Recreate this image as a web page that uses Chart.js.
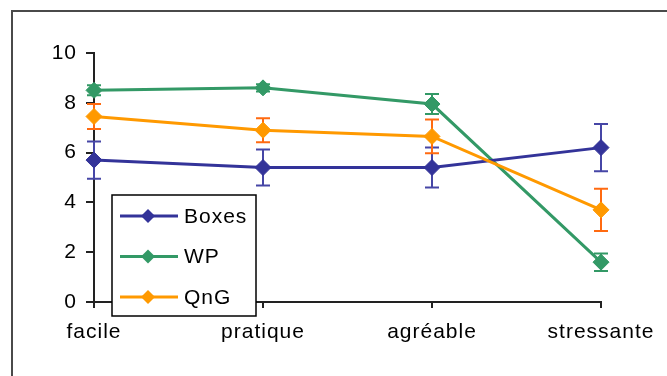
<!DOCTYPE html>
<html lang="fr">
<head>
    <meta charset="UTF-8">
    <title>Boxes / WP / QnG</title>
    <style>
        body {
            margin: 0;
            background: #fff;
            overflow: hidden;
        }

        .frame {
            position: absolute;
            left: 11px;
            top: 10px;
            width: 700px;
            height: 400px;
            border: 2px solid #4a4a4a;
        }

        .wrap {
            position: absolute;
            left: 0;
            top: 0;
            width: 667px;
            height: 376px;
        }
    </style>
    <script src="https://cdn.jsdelivr.net/npm/chart.js"></script>
</head>
<body>
    <div class="frame"></div>
    <div class="wrap"><canvas id="chart"></canvas></div>

    <script>
        const categories = ['facile', 'pratique', 'agréable', 'stressante'];
        const yTicks = [0, 2, 4, 6, 8, 10];

        const boxes = [5.7, 5.4, 5.4, 6.2];
        const boxesErr = [0.75, 0.72, 0.8, 0.95];
        const wp = [8.5, 8.6, 7.95, 1.6];
        const wpErr = [0.2, 0.15, 0.4, 0.35];
        const qng = [7.45, 6.9, 6.65, 3.7];
        const qngErr = [0.5, 0.48, 0.68, 0.85];

        const FONT = { family: "'Liberation Sans', Arial, sans-serif", size: 21 };

        // barres d'erreur, dessinées sous les marqueurs
        const errorBars = {
            id: 'errorBars',
            beforeDatasetsDraw(chart) {
                const ctx = chart.ctx;
                const y = chart.scales.y;
                chart.data.datasets.forEach((ds, i) => {
                    const meta = chart.getDatasetMeta(i);
                    ctx.save();
                    ctx.strokeStyle = ds.errColor;
                    ctx.lineWidth = 2;
                    ds.data.forEach((v, j) => {
                        const px = meta.data[j].x;
                        const top = y.getPixelForValue(v + ds.err[j]);
                        const bot = y.getPixelForValue(v - ds.err[j]);
                        ctx.beginPath();
                        ctx.moveTo(px, top);
                        ctx.lineTo(px, bot);
                        ctx.moveTo(px - 7, top);
                        ctx.lineTo(px + 7, top);
                        ctx.moveTo(px - 7, bot);
                        ctx.lineTo(px + 7, bot);
                        ctx.stroke();
                    });
                    ctx.restore();
                });
            }
        };

        // légende encadrée dans la zone du graphique
        const boxLegend = {
            id: 'boxLegend',
            afterDraw(chart) {
                const ctx = chart.ctx;
                const a = chart.chartArea;
                const left = a.left + 18, top = a.top + 142;
                ctx.save();
                ctx.fillStyle = '#fff';
                ctx.fillRect(left, top, 144, 121);
                ctx.strokeStyle = '#000';
                ctx.lineWidth = 1.5;
                ctx.strokeRect(left, top, 144, 121);
                ctx.font = FONT.size + 'px ' + FONT.family;
                ctx.textBaseline = 'middle';
                ctx.textAlign = 'left';
                chart.data.datasets.forEach((ds, i) => {
                    const cy = top + 21 + i * 40.5;
                    ctx.strokeStyle = ds.borderColor;
                    ctx.lineWidth = 3;
                    ctx.beginPath();
                    ctx.moveTo(left + 8, cy);
                    ctx.lineTo(left + 66, cy);
                    ctx.stroke();
                    ctx.fillStyle = ds.borderColor;
                    ctx.beginPath();
                    ctx.moveTo(left + 36, cy - 7);
                    ctx.lineTo(left + 43, cy);
                    ctx.lineTo(left + 36, cy + 7);
                    ctx.lineTo(left + 29, cy);
                    ctx.closePath();
                    ctx.fill();
                    ctx.fillStyle = '#000';
                    ctx.fillText(ds.label, left + 72, cy + 1);
                });
                ctx.restore();
            }
        };

        const spacing = {
            id: 'spacing',
            beforeDraw(chart) {
                chart.ctx.letterSpacing = '1px';
            }
        };

        function series(label, data, err, color, errColor, order) {
            return {
                label: label,
                data: data,
                err: err,
                errColor: errColor,
                order: order,
                borderColor: color,
                backgroundColor: color,
                borderWidth: 3,
                pointStyle: 'rectRot',
                pointRadius: 8,
                pointBorderWidth: 1,
                tension: 0
            };
        }

        new Chart(document.getElementById('chart'), {
            type: 'line',
            data: {
                labels: categories,
                datasets: [
                    series('Boxes', boxes, boxesErr, '#333399', '#4646a6', 2),
                    series('WP', wp, wpErr, '#339966', '#339966', 3),
                    series('QnG', qng, qngErr, '#ff9900', '#ff6a10', 1)
                ]
            },
            options: {
                responsive: true,
                maintainAspectRatio: false,
                animation: false,
                layout: { padding: { top: 53, right: 66, bottom: 0, left: 0 } },
                plugins: {
                    legend: { display: false },
                    tooltip: { enabled: false }
                },
                scales: {
                    x: {
                        offset: false,
                        grid: { drawOnChartArea: false, tickLength: 6, color: '#222', lineWidth: 2 },
                        border: { display: true, color: '#222', width: 2 },
                        ticks: { font: FONT, color: '#000', padding: 12, maxRotation: 0 },
                        afterFit(s) { s.height = 74; }
                    },
                    y: {
                        min: 0,
                        max: 10,
                        afterBuildTicks(s) { s.ticks = yTicks.map(v => ({ value: v })); },
                        grid: { drawOnChartArea: false, tickLength: 8, color: '#222', lineWidth: 2 },
                        border: { display: true, color: '#222', width: 2 },
                        ticks: { font: FONT, color: '#000', padding: 9 },
                        afterFit(s) { s.width = 94; }
                    }
                }
            },
            plugins: [spacing, errorBars, boxLegend]
        });
    </script>
</body>
</html>
